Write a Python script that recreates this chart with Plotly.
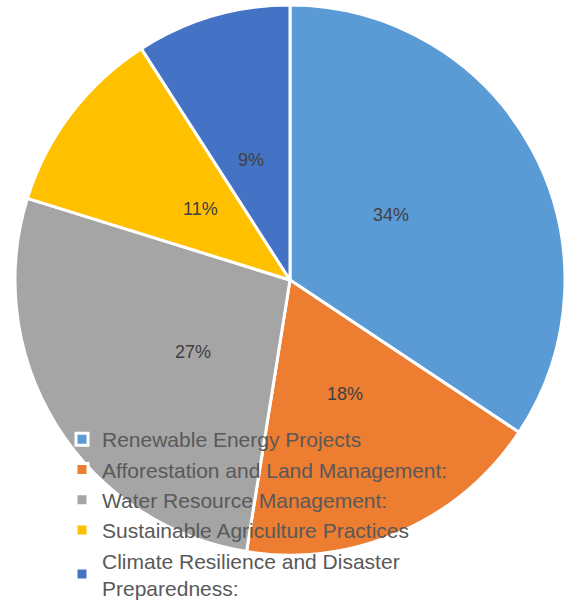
import math
import plotly.graph_objects as go

labels = ["Renewable Energy Projects",
          "Afforestation and Land Management:",
          "Water Resource Management:",
          "Sustainable Agriculture Practices",
          "Climate Resilience and Disaster<br>Preparedness:"]
values = [34, 18, 27, 11, 9]
colors = ["#5B9BD5", "#ED7D31", "#A5A5A5", "#FFC000", "#4472C4"]

W, H = 570, 608
CX, CY, R = 290, 280, 275

fig = go.Figure(go.Pie(
    labels=labels, values=values, sort=False, direction="clockwise", rotation=0,
    marker=dict(colors=colors, line=dict(color="white", width=3)),
    textinfo="none",
    domain=dict(x=[(CX-R)/W, (CX+R)/W], y=[1-(CY+R)/H, 1-(CY-R)/H]),
    hoverinfo="label+percent",
))

# percentage labels at half radius, mid-angle of each slice
total = sum(values)
cum = 0
for v in values:
    mid = (cum + v/2) / total * 2*math.pi
    cum += v
    px = CX + 0.5*R*math.sin(mid)
    py = CY - 0.5*R*math.cos(mid)
    fig.add_annotation(x=px/W, y=1-py/H, xref="paper", yref="paper",
                       text=f"{round(v/total*100)}%", showarrow=False,
                       font=dict(family="Liberation Sans, Arial", size=18, color="#404040"))

fig.update_layout(
    width=W, height=H, margin=dict(l=0, r=0, t=0, b=0),
    paper_bgcolor="white",
    legend=dict(x=62/W, y=0, xanchor="left", yanchor="bottom",
                bgcolor="rgba(0,0,0,0)",
                font=dict(family="Liberation Sans, Arial", size=21, color="#595959"),
                itemwidth=30, tracegroupgap=0),
    showlegend=True,
)
fig.write_html("out.html", config={"displayModeBar": False},
               post_script="document.body.style.margin='0';")
